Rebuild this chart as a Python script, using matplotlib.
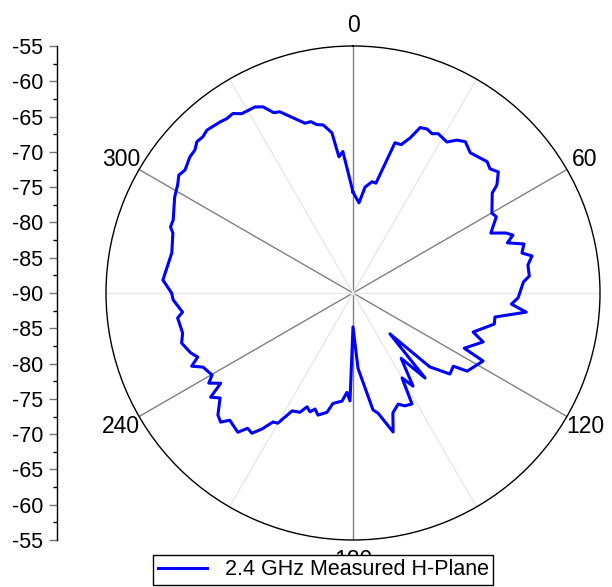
import numpy as np
import matplotlib.pyplot as plt

plt.rcParams['font.family'] = ['Liberation Sans', 'DejaVu Sans']

# measured pattern (angle in degrees, clockwise from top; level in dB)
angle_deg = [0, 3.8, 6.5, 9.7, 11.8, 15.6, 18.0, 20.2, 22.1, 24.3, 26.4, 28.1,
             31.9, 34.2, 36.6, 39.9, 45.6, 47.8, 50.2, 53.1, 54.3, 60.1, 62.0,
             66.5, 68.6, 70.1, 72.0, 74.0, 76.7, 78.3, 80.9, 84.5, 86.3, 91.7,
             94.0, 96.3, 99.6, 102.4, 108.0, 110.6, 116.4, 117.6, 124.4, 126.1,
             129.9, 133.9, 137.9, 139.7, 143.6, 147.2, 150.0, 152.0, 155.3,
             157.9, 161.6, 163.9, 168.2, 170.3, 176.2, 180.0, 181.6, 183.5,
             185.8, 190.3, 192.3, 196.0, 198.1, 199.9, 202.0, 204.0, 207.3,
             210.0, 211.8, 213.8, 215.8, 217.9, 219.6, 224.1, 225.7, 227.9,
             231.7, 233.8, 235.7, 238.0, 239.8, 243.7, 245.6, 247.6, 249.7,
             253.7, 256.8, 261.9, 263.6, 267.8, 270.0, 273.9, 282.5, 288.4,
             289.9, 292.1, 298.3, 301.7, 304.1, 306.2, 309.8, 312.1, 314.1,
             316.1, 318.1, 322.1, 324.1, 326.2, 328.2, 332.2, 334.2, 336.3,
             338.0, 344.2, 346.2, 347.9, 349.9, 352.5, 354.1, 355.9]
gain_db = [-75.7, -77.2, -74.9, -74.0, -74.1, -67.9, -67.9, -66.6, -64.7, -64.5,
           -64.8, -64.4, -64.8, -63.8, -63.3, -64.1, -63.4, -63.8, -63.2, -64.5,
           -65.7, -67.3, -67.0, -68.7, -66.7, -65.9, -67.0, -64.8, -65.4, -64.1,
           -64.9, -64.9, -65.8, -66.6, -67.5, -65.3, -69.6, -69.5, -72.1, -70.3,
           -72.4, -69.2, -70.4, -72.4, -72.1, -74.9, -82.2, -74.2, -78.5, -74.3,
           -76.1, -72.2, -72.4, -73.0, -72.1, -69.5, -72.6, -73.2, -79.3, -85.2,
           -74.7, -75.9, -74.6, -74.1, -72.7, -72.0, -72.7, -72.1, -72.6, -71.5,
           -71.2, -68.7, -68.5, -66.8, -65.5, -65.7, -64.4, -64.9, -63.8, -64.2,
           -66.0, -65.0, -67.3, -65.9, -66.9, -66.3, -64.9, -66.2, -65.5, -64.7,
           -65.2, -64.9, -65.7, -64.5, -64.3, -63.0, -63.7, -63.1, -62.5, -62.5,
           -61.3, -60.8, -60.2, -60.5, -59.9, -59.8, -59.2, -59.3, -59.0, -59.3,
           -59.5, -59.4, -60.1, -60.2, -60.7, -62.1, -62.3, -65.0, -65.0, -65.6,
           -65.8, -67.1, -70.6, -69.9]

r_min, r_max = -90, -55
theta_ticks = [0, 60, 120, 180, 240, 300]
theta_labels = ['0', '60', '120', '180', '240', '300']
theta_minor = [30, 90, 150, 210, 270, 330]

fig = plt.figure(figsize=(6.12, 5.87), dpi=100)

ax = fig.add_axes([106 / 612, 47 / 587, 494 / 612, 494 / 587], projection='polar')
ax.set_theta_zero_location('N')
ax.set_theta_direction(-1)
ax.set_ylim(r_min, r_max)

th = np.deg2rad(angle_deg + [angle_deg[0]])
rr = gain_db + [gain_db[0]]
ax.plot(th, rr, color='#0000ff', lw=2.2, label='2.4 GHz Measured H-Plane')

ax.set_yticks([])
ax.set_xticks(np.deg2rad(theta_ticks))
ax.set_xticklabels(theta_labels, fontsize=16.5)
ax.set_xticks(np.deg2rad(theta_minor), minor=True)
ax.xaxis.grid(True, which='major', color='#808080', lw=1)
ax.xaxis.grid(True, which='minor', color='#e8e8e8', lw=1)
ax.tick_params(axis='x', which='both', length=0, pad=8)
ax.spines['polar'].set_color('black')
ax.spines['polar'].set_linewidth(1)

# linear scale on the left, mirrored around the centre
axl = fig.add_axes([57 / 612, 47 / 587, 0.0001, 494 / 587])
offsets = np.arange(-(r_max - r_min), (r_max - r_min) + 1, 5)
axl.set_ylim(offsets[0], offsets[-1])
axl.set_yticks(offsets)
axl.set_yticklabels([str(r_min + abs(o)) for o in offsets], fontsize=15.5)
axl.set_yticks(np.arange(offsets[0], offsets[-1] + 0.1, 2.5), minor=True)
axl.tick_params(axis='y', which='major', length=6, width=1, color='#777777', pad=4)
axl.tick_params(axis='y', which='minor', length=3, width=1, color='black')
axl.set_xticks([])
for s in ['top', 'right', 'bottom']:
    axl.spines[s].set_visible(False)
axl.spines['left'].set_linewidth(1)

fig.legend(loc='center', bbox_to_anchor=(0.528, 0.029), fontsize=15.5,
           frameon=True, fancybox=False, edgecolor='black', framealpha=1,
           handlelength=2.3, borderpad=0.2, borderaxespad=0)

fig.savefig('out.png', dpi=100)
